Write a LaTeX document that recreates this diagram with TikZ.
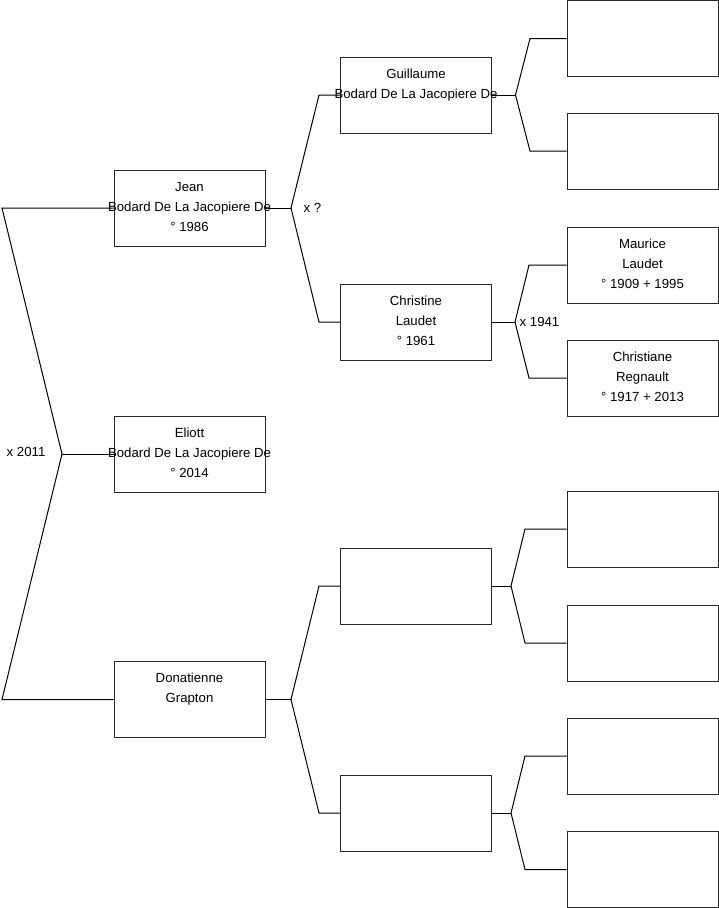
\documentclass[tikz,border=0pt]{standalone}
\usepackage{fontspec}
\setmainfont{Liberation Sans}
\begin{document}
\begin{tikzpicture}[x=1pt,y=-1pt,
  box/.style={draw=black!85, line width=1pt, minimum width=151pt, minimum height=76pt, inner sep=0pt},
  txt/.style={align=center, anchor=north, inner sep=0pt, font=\fontsize{13.2}{20}\selectfont},
  lbl/.style={anchor=west, inner sep=0pt, font=\fontsize{13.2}{16}\selectfont},
  link/.style={line width=1pt, black}]
\useasboundingbox (0,0) rectangle (719,908);
% boxes
\node[box] (jean) at (189.5,208) {};
\node[box] (eliott) at (189.5,454) {};
\node[box] (don) at (189.5,699.5) {};
\node[box] (guil) at (416,95) {};
\node[box] (chris) at (416,322) {};
\node[box] (ea) at (416,586) {};
\node[box] (eb) at (416,813) {};
\node[box] (b1) at (642.5,38.5) {};
\node[box] (b2) at (642.5,151) {};
\node[box] (b3) at (642.5,265) {};
\node[box] (b4) at (642.5,378) {};
\node[box] (b5) at (642.5,529) {};
\node[box] (b6) at (642.5,643) {};
\node[box] (b7) at (642.5,756) {};
\node[box] (b8) at (642.5,869.5) {};
% coordinates
\coordinate (L1) at (2,208);
\coordinate (F0) at (62,454);
\coordinate (L2) at (2,699.5);
\coordinate (F1) at (291,208);
\coordinate (F1a) at (319,95);
\coordinate (F1b) at (319,322);
\coordinate (G) at (515.5,95);
\coordinate (Ga) at (530,38.5);
\coordinate (Gb) at (530,151);
\coordinate (C) at (515,322);
\coordinate (Ca) at (529,265);
\coordinate (Cb) at (529,378);
\coordinate (D) at (291,699.5);
\coordinate (Da) at (319,586);
\coordinate (Db) at (319,813);
\coordinate (E) at (511,586);
\coordinate (Ea) at (525,529);
\coordinate (Eb) at (525,643);
\coordinate (H) at (511,813);
\coordinate (Ha) at (525,756);
\coordinate (Hb) at (525,869.5);
% connectors
\draw[link] (jean.west) -- (L1) -- (F0) -- (L2) -- (don.west);
\draw[link] (F0) -- (eliott.west);
\draw[link] (jean.east) -- (F1);
\draw[link] (F1) -- (F1a) -- (guil.west);
\draw[link] (F1) -- (F1b) -- (chris.west);
\draw[link] (guil.east) -- (G);
\draw[link] (G) -- (Ga) -- (b1.west);
\draw[link] (G) -- (Gb) -- (b2.west);
\draw[link] (chris.east) -- (C);
\draw[link] (C) -- (Ca) -- (b3.west);
\draw[link] (C) -- (Cb) -- (b4.west);
\draw[link] (don.east) -- (D);
\draw[link] (D) -- (Da) -- (ea.west);
\draw[link] (D) -- (Db) -- (eb.west);
\draw[link] (ea.east) -- (E);
\draw[link] (E) -- (Ea) -- (b5.west);
\draw[link] (E) -- (Eb) -- (b6.west);
\draw[link] (eb.east) -- (H);
\draw[link] (H) -- (Ha) -- (b7.west);
\draw[link] (H) -- (Hb) -- (b8.west);
% texts
\node[txt] (tjean) at ([yshift=-11.5pt]jean.north) {\rule{0pt}{10pt}Jean\\Bodard De La Jacopiere De\\° 1986};
\node[txt] (teliott) at ([yshift=-11.5pt]eliott.north) {\rule{0pt}{10pt}Eliott\\Bodard De La Jacopiere De\\° 2014};
\node[txt] (tdon) at ([yshift=-11.5pt]don.north) {\rule{0pt}{10pt}Donatienne\\Grapton};
\node[txt] (tguil) at ([yshift=-11.5pt]guil.north) {\rule{0pt}{10pt}Guillaume\\Bodard De La Jacopiere De};
\node[txt] (tchris) at ([yshift=-11.5pt]chris.north) {\rule{0pt}{10pt}Christine\\Laudet\\° 1961};
\node[txt] (tb3) at ([yshift=-11.5pt]b3.north) {\rule{0pt}{10pt}Maurice\\Laudet\\° 1909 + 1995};
\node[txt] (tb4) at ([yshift=-11.5pt]b4.north) {\rule{0pt}{10pt}Christiane\\Regnault\\° 1917 + 2013};
% labels
\node[lbl] (x2011) at (6.5,452) {x 2011};
\node[lbl] (xq) at (303.5,207.5) {x ?};
\node[lbl] (x1941) at (519.5,321.5) {x 1941};
\end{tikzpicture}
\end{document}
